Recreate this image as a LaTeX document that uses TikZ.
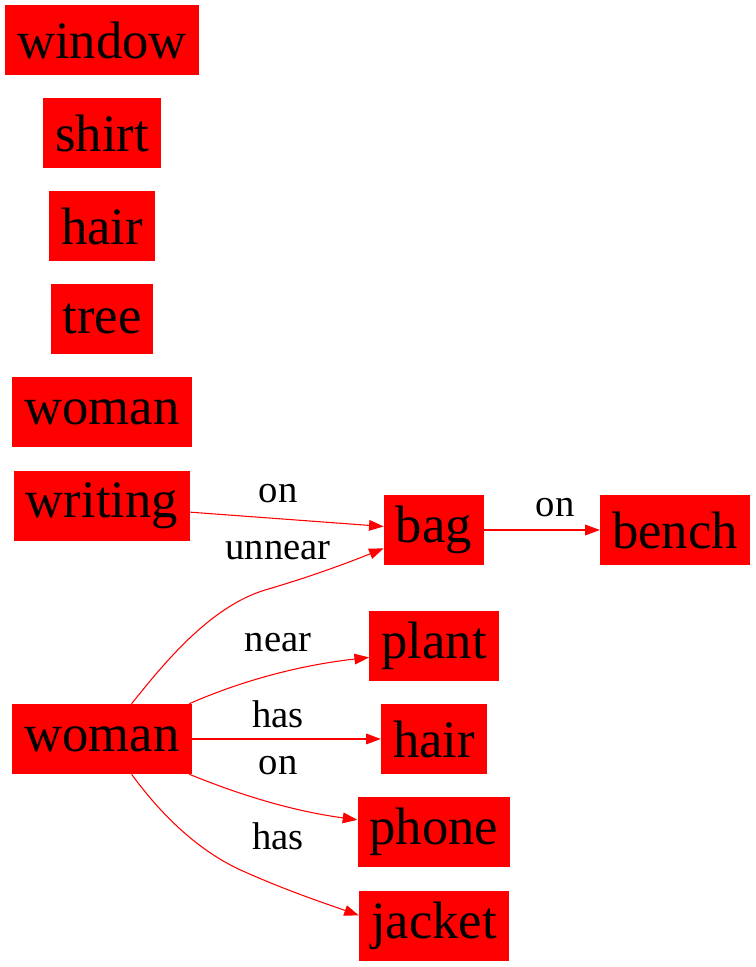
\documentclass[tikz,border=0pt]{standalone}
\usepackage{fontspec}
\setmainfont{Liberation Serif}
\usetikzlibrary{arrows.meta}
\tikzset{
	object/.style={fill=red,draw=none,inner xsep=9pt,inner ysep=0pt,minimum height=52.5pt,font=\fontsize{39.5pt}{40pt}\selectfont},%
	relation/.style={red,line width=0.8pt,-{Triangle[length=11pt,width=8pt]}},%
	rellabel/.style={anchor=base,inner sep=0pt,font=\fontsize{29pt}{30pt}\selectfont},%
}
\def\colA{102}
\def\colB{434}

\begin{document}
\begin{tikzpicture}[x=0.75pt,y=0.75pt]
		\useasboundingbox (0,0) rectangle (756,967);
		% objects without relations
		\node[object] (window) at (\colA,927) {window};
		\node[object] (shirt) at (\colA,834) {shirt};
		\node[object] (hair) at (\colA,741) {hair};
		\node[object] (tree) at (\colA,648) {tree};
		\node[object] (woman) at (\colA,555) {woman};
		% related objects
		\node[object] (writing) at (\colA,461) {writing};
		\node[object] (bag) at (\colB,437) {bag};
		\node[object] (bench) at (675,437) {bench};
		\node[object] (womanB) at (\colA,228) {woman};
		\node[object] (plant) at (\colB,321) {plant};
		\node[object] (hairB) at (\colB,228) {hair};
		\node[object] (phone) at (\colB,135) {phone};
		\node[object] (jacket) at (\colB,41) {jacket};
		% relations
		\draw[relation] (writing.-4.5) -- (bag.176.5);
		\draw[relation] (bag) -- (bench);
		\draw[relation] (womanB.50) .. controls (165,305) and (210,360) .. (265,377) .. controls (310,390) and (350,405) .. (bag.200);
		\draw[relation] (womanB.22) .. controls (250,290) and (310,303) .. (plant.190);
		\draw[relation] (womanB) -- (hairB);
		\draw[relation] (womanB.-22) .. controls (250,168) and (300,155) .. (phone.171);
		\draw[relation] (womanB.-50) .. controls (170,140) and (210,110) .. (245,95) .. controls (290,75) and (330,62) .. (jacket.172);
		% labels
		\node[rellabel] (lbwritingbag) at (278,464) {on};
		\node[rellabel] (lbbagbench) at (555,450) {on};
		\node[rellabel] (lbwomanbag) at (278,407) {unnear};
		\node[rellabel] (lbwomanplant) at (278,315) {near};
		\node[rellabel] (lbwomanhair) at (278,239) {has};
		\node[rellabel] (lbwomanphone) at (278,192) {on};
		\node[rellabel] (lbwomanjacket) at (278,117) {has};
	\end{tikzpicture}
\end{document}
